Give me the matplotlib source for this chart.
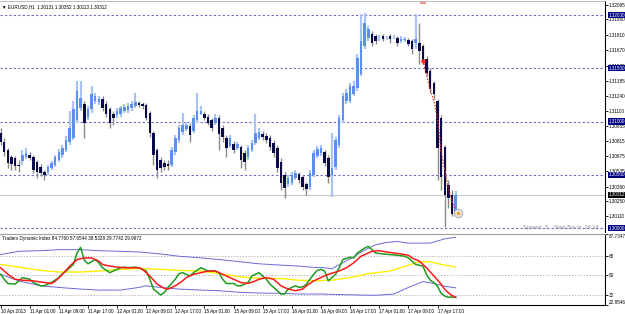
import matplotlib
matplotlib.use("Agg")
import matplotlib.pyplot as plt
from matplotlib.transforms import blended_transform_factory

plt.rcParams["font.family"] = ["Liberation Sans", "DejaVu Sans"]

# EURUSD H1, 10 Apr 17:00 .. 17 Apr 22:00 (one row per bar)
opens = [1.30888, 1.30804, 1.30729, 1.30664, 1.30655, 1.30589, 1.30626, 1.30664, 1.30683, 1.30664,
         1.30617, 1.30570, 1.30524, 1.30524, 1.30561, 1.30589, 1.30636, 1.30683, 1.30729, 1.30804,
         1.30842, 1.31010, 1.31131, 1.31169, 1.31047, 1.31122, 1.31197, 1.31187, 1.31216, 1.31169,
         1.31122, 1.31075, 1.31057, 1.31075, 1.31103, 1.31113, 1.31131, 1.31150, 1.31178, 1.31169,
         1.31159, 1.31085, 1.30888, 1.30729, 1.30636, 1.30608, 1.30598, 1.30589, 1.30711, 1.30823,
         1.30898, 1.30926, 1.30954, 1.30916, 1.31010, 1.31075, 1.31075, 1.31047, 1.31010, 1.30982,
         1.31029, 1.30935, 1.30842, 1.30767, 1.30785, 1.30748, 1.30757, 1.30701, 1.30664, 1.30729,
         1.30795, 1.30842, 1.30879, 1.30860, 1.30842, 1.30795, 1.30748, 1.30617, 1.30496, 1.30411,
         1.30421, 1.30468, 1.30505, 1.30477, 1.30411, 1.30383, 1.30496, 1.30673, 1.30701, 1.30711,
         1.30655, 1.30496, 1.30570, 1.30776, 1.31010, 1.31197, 1.31197, 1.31262, 1.31318, 1.31449,
         1.31711, 1.31786, 1.31823, 1.31805, 1.31786, 1.31805, 1.31786, 1.31805, 1.31795, 1.31786,
         1.31758, 1.31767, 1.31767, 1.31758, 1.31739, 1.31739, 1.31711, 1.31590, 1.31477, 1.31365,
         1.31197, 1.31029, 1.30757, 1.30402, 1.30309, 1.30131]
highs = [1.30935, 1.30842, 1.30748, 1.30683, 1.30673, 1.30636, 1.30729, 1.30748, 1.30711, 1.30683,
         1.30636, 1.30598, 1.30542, 1.30589, 1.30626, 1.30683, 1.30739, 1.30776, 1.30860, 1.31103,
         1.31197, 1.31384, 1.31384, 1.31197, 1.31150, 1.31337, 1.31272, 1.31244, 1.31244, 1.31197,
         1.31141, 1.31103, 1.31131, 1.31150, 1.31169, 1.31178, 1.31197, 1.31272, 1.31197, 1.31187,
         1.31178, 1.31103, 1.30916, 1.30748, 1.30664, 1.30636, 1.30636, 1.30757, 1.30870, 1.30972,
         1.31085, 1.31000, 1.30982, 1.31066, 1.31272, 1.31150, 1.31103, 1.31075, 1.31038, 1.31075,
         1.31057, 1.30963, 1.30870, 1.30870, 1.30813, 1.30804, 1.30776, 1.30729, 1.30776, 1.30823,
         1.31075, 1.30935, 1.30916, 1.30888, 1.30870, 1.30823, 1.30776, 1.30655, 1.30524, 1.30496,
         1.30524, 1.30542, 1.30524, 1.30496, 1.30430, 1.30542, 1.30729, 1.30767, 1.30776, 1.30729,
         1.30683, 1.30888, 1.30851, 1.31057, 1.31272, 1.31309, 1.31365, 1.31384, 1.31636, 1.32010,
         1.32020, 1.31898, 1.31851, 1.31823, 1.31814, 1.31823, 1.31805, 1.31823, 1.31814, 1.31805,
         1.31805, 1.31795, 1.31786, 1.31777, 1.32010, 1.31926, 1.31730, 1.31618, 1.31505, 1.31384,
         1.31216, 1.31057, 1.30776, 1.30449, 1.30355, 1.30352]
lows = [1.30776, 1.30673, 1.30561, 1.30542, 1.30542, 1.30524, 1.30589, 1.30645, 1.30636, 1.30514,
        1.30468, 1.30486, 1.30449, 1.30496, 1.30542, 1.30570, 1.30617, 1.30655, 1.30711, 1.30776,
        1.30823, 1.30982, 1.31103, 1.30842, 1.31010, 1.31085, 1.31169, 1.31159, 1.31103, 1.31047,
        1.30935, 1.30963, 1.31029, 1.31047, 1.31085, 1.31085, 1.31103, 1.31131, 1.31141, 1.31122,
        1.31010, 1.30851, 1.30589, 1.30468, 1.30524, 1.30542, 1.30542, 1.30570, 1.30683, 1.30795,
        1.30870, 1.30907, 1.30804, 1.30888, 1.30991, 1.31057, 1.31010, 1.30963, 1.30916, 1.30963,
        1.30729, 1.30804, 1.30664, 1.30748, 1.30701, 1.30729, 1.30561, 1.30542, 1.30636, 1.30711,
        1.30776, 1.30823, 1.30823, 1.30795, 1.30729, 1.30664, 1.30524, 1.30355, 1.30281, 1.30383,
        1.30402, 1.30449, 1.30421, 1.30355, 1.30309, 1.30355, 1.30477, 1.30655, 1.30673, 1.30580,
        1.30421, 1.30290, 1.30542, 1.30748, 1.30982, 1.31169, 1.31178, 1.31244, 1.31290, 1.31431,
        1.31683, 1.31758, 1.31711, 1.31730, 1.31758, 1.31758, 1.31767, 1.31739, 1.31777, 1.31711,
        1.31739, 1.31748, 1.31711, 1.31636, 1.31683, 1.31543, 1.31543, 1.31431, 1.31272, 1.31216,
        1.30449, 1.30355, 1.30009, 1.30187, 1.30113, 1.30113]
closes = [1.30804, 1.30711, 1.30608, 1.30598, 1.30580, 1.30580, 1.30683, 1.30701, 1.30655, 1.30542,
          1.30524, 1.30514, 1.30496, 1.30570, 1.30608, 1.30664, 1.30711, 1.30748, 1.30823, 1.30935,
          1.31122, 1.31290, 1.31225, 1.30991, 1.31122, 1.31262, 1.31244, 1.31216, 1.31131, 1.31075,
          1.30991, 1.31029, 1.31103, 1.31131, 1.31141, 1.31150, 1.31169, 1.31187, 1.31159, 1.31150,
          1.31038, 1.30888, 1.30683, 1.30542, 1.30561, 1.30570, 1.30580, 1.30729, 1.30842, 1.30944,
          1.30963, 1.30972, 1.30870, 1.31038, 1.31103, 1.31103, 1.31029, 1.30982, 1.30944, 1.31038,
          1.30879, 1.30851, 1.30748, 1.30842, 1.30729, 1.30785, 1.30636, 1.30617, 1.30748, 1.30795,
          1.30888, 1.30898, 1.30851, 1.30823, 1.30757, 1.30701, 1.30561, 1.30421, 1.30374, 1.30468,
          1.30496, 1.30514, 1.30449, 1.30383, 1.30365, 1.30514, 1.30701, 1.30739, 1.30748, 1.30608,
          1.30477, 1.30561, 1.30823, 1.31029, 1.31244, 1.31272, 1.31337, 1.31337, 1.31599, 1.31758,
          1.31926, 1.31870, 1.31739, 1.31758, 1.31786, 1.31777, 1.31786, 1.31777, 1.31795, 1.31739,
          1.31777, 1.31777, 1.31730, 1.31683, 1.31777, 1.31664, 1.31571, 1.31459, 1.31309, 1.31262,
          1.30748, 1.30477, 1.30309, 1.30281, 1.30131, 1.30312]

price_ticks = [1.32095, 1.31960, 1.31810, 1.31670, 1.31525, 1.31385, 1.31240, 1.31100,
               1.30955, 1.30815, 1.30675, 1.30535, 1.30390, 1.30250, 1.30110]
round_levels = [1.32000, 1.31500, 1.31000, 1.30500, 1.30000]
bid_price = 1.30312

time_ticks = [0, 8, 16, 24, 32, 40, 48, 56, 64, 72, 80, 88, 96, 104, 112, 120]
time_labels = ["10 Apr 2013", "11 Apr 01:00", "11 Apr 09:00", "11 Apr 17:00", "12 Apr 01:00",
               "12 Apr 09:00", "12 Apr 17:00", "15 Apr 01:00", "15 Apr 09:00", "15 Apr 17:00",
               "16 Apr 01:00", "16 Apr 09:00", "16 Apr 17:00", "17 Apr 01:00", "17 Apr 09:00",
               "17 Apr 17:00"]

# red trailing dots during the sell-off
trail_idx = [116, 117, 118, 119, 120, 121, 122, 123, 124, 125]
trail_val = [1.31571, 1.31440, 1.31300, 1.31200, 1.31030, 1.30720, 1.30540, 1.30370, 1.30250, 1.30160]

# Traders Dynamic Index
rsi_idx = [0, 1, 2, 4, 5, 6, 8, 9, 11, 12, 14, 16, 17, 18, 20, 21, 22, 23, 24, 26, 27, 28, 30, 31,
           33, 34, 35, 37, 38, 40, 41, 42, 44, 45, 46, 48, 49, 50, 52, 53, 55, 56, 57, 59, 60, 61,
           62, 64, 65, 66, 68, 69, 71, 72, 73, 74, 76, 77, 78, 79, 81, 82, 83, 84, 85, 86, 87, 88,
           89, 90, 92, 93, 94, 96, 97, 98, 100, 101, 102, 103, 105, 107, 109, 111, 112, 114, 116,
           117, 118, 119, 120, 121, 122, 123, 124, 125]
rsi_val = [50.9, 46.4, 42.5, 41.9, 44.9, 47.9, 46.4, 43.4, 40.4, 40.4, 43.4, 47.9, 51.5, 53.9, 59.9,
           70.4, 75.5, 64.0, 60.5, 64.4, 61.4, 56.9, 52.4, 53.9, 56.9, 57.5, 56.9, 57.5, 56.9, 53.9,
           46.4, 37.4, 32.0, 34.4, 38.9, 46.4, 51.5, 52.4, 49.4, 52.4, 56.9, 55.4, 53.9, 53.9, 52.4,
           46.4, 42.5, 42.5, 40.4, 40.4, 43.4, 49.4, 52.4, 49.4, 46.4, 41.9, 35.9, 32.9, 32.9, 37.4,
           40.4, 38.9, 39.5, 41.9, 46.4, 50.9, 54.5, 55.4, 53.9, 44.9, 50.9, 56.9, 64.4, 66.5, 65.9,
           70.4, 74.9, 76.4, 73.4, 70.4, 69.5, 68.9, 68.3, 67.4, 65.9, 59.9, 58.4, 50.5, 45.5, 43.4,
           40.0, 33.5, 31.0, 29.9, 30.2, 29.77]
sig_idx = [0, 2, 4, 6, 9, 12, 14, 15, 17, 19, 21, 23, 25, 27, 28, 30, 32, 34, 37, 38, 39, 41, 43,
           45, 46, 48, 50, 51, 53, 55, 57, 59, 60, 62, 64, 66, 68, 70, 71, 73, 75, 77, 79, 81, 83,
           84, 86, 88, 90, 93, 95, 97, 99, 101, 102, 104, 106, 108, 110, 112, 113, 115, 117, 119,
           121, 122, 123, 124, 125]
sig_val = [56.9, 50.9, 46.4, 45.5, 44.9, 43.4, 42.5, 44.5, 50.9, 58.4, 64.4, 65.9, 65.9, 62.9, 59.9,
           58.4, 57.5, 56.9, 56.9, 56.9, 55.4, 49.4, 41.9, 38.0, 37.4, 40.4, 44.9, 47.9, 50.9, 52.4,
           53.9, 53.9, 52.4, 49.4, 46.4, 43.4, 42.5, 44.9, 46.4, 47.9, 46.4, 40.4, 37.4, 35.9, 37.4,
           40.4, 44.9, 47.9, 50.9, 53.9, 56.9, 61.4, 67.4, 70.4, 71.9, 72.5, 71.3, 70.4, 69.5, 68.3,
           65.9, 62.9, 56.9, 49.4, 41.9, 37.0, 34.0, 31.5, 30.0]
base_idx = [0, 5, 11, 16, 22, 27, 33, 38, 44, 49, 55, 60, 66, 71, 77, 82, 86, 91, 96, 101, 107,
            112, 115, 118, 121, 125]
base_val = [59.9, 57.5, 54.5, 53.0, 53.0, 53.9, 55.4, 56.3, 55.4, 54.5, 53.9, 51.5, 48.5, 47.3,
            47.0, 45.5, 45.0, 45.5, 47.9, 51.5, 53.9, 59.3, 62.3, 62.3, 59.9, 57.65]
upper_idx = [0, 5, 11, 16, 22, 27, 33, 38, 44, 49, 55, 60, 66, 71, 77, 82, 85, 89, 91, 94, 97, 100,
             103, 106, 109, 112, 118, 122, 125]
upper_val = [68.9, 71.9, 72.5, 73.4, 73.4, 72.5, 71.9, 71.3, 69.5, 67.4, 65.9, 64.4, 62.3, 60.5,
             59.3, 58.4, 57.5, 56.9, 56.0, 61.4, 67.0, 73.0, 77.9, 80.0, 80.9, 79.4, 79.4, 83.3, 84.78]
lower_idx = [0, 5, 11, 16, 22, 27, 33, 38, 40, 44, 49, 55, 60, 66, 71, 77, 82, 88, 94, 103, 108,
             112, 116, 119, 122, 125]
lower_val = [50.9, 44.9, 40.4, 38.9, 37.4, 36.5, 36.5, 38.9, 40.4, 38.9, 37.4, 36.5, 35.9, 34.4,
             33.8, 33.5, 32.9, 32.9, 32.3, 31.7, 32.9, 38.9, 44.3, 42.5, 40.0, 38.53]

BULL = "#5b8ff0"
BEAR = "#0a0a48"
LEVEL = "#6a6ac8"
FS = 3.3

fig = plt.figure(figsize=(6.25, 3.14), dpi=100)
fig.patch.set_facecolor("white")
W, H = 625.0, 314.0
ax = fig.add_axes([0, 1 - 232 / H, 605 / W, 231 / H])
ax2 = fig.add_axes([0, 1 - 305 / H, 605 / W, 71 / H])

xmin, xmax = -0.15, 166.0
n = len(opens)

# candles
for i in range(n):
    o, h, l, c = opens[i], highs[i], lows[i], closes[i]
    up = c >= o
    ax.vlines(i, l, h, color="#a9c3f3" if up else "#8a8a8a", lw=1.6 if up else 1.0, zorder=2)
    body = max(abs(c - o), 0.00002)
    ax.bar(i, body, bottom=min(o, c), width=0.7, color=BULL if up else BEAR,
           linewidth=0, zorder=3)

ax.plot(trail_idx, trail_val, ls=(0, (1, 1.2)), color="#e03020", lw=1.0, zorder=4)
ax.plot([116], [1.31565], "o", color="#ff2a1a", ms=2.2, zorder=5)
ax.plot([116], [1.32110], "_", color="#f08070", ms=4, mew=1.2, zorder=5)
ax.plot([125.6], [1.30140], "o", ms=6, mfc="#e8e8e8", mec="#b0b0b0", mew=0.8, zorder=5)
ax.plot([125.6], [1.30140], "o", ms=1.5, color="#f0a020", zorder=6)

for lv in round_levels:
    ax.axhline(lv, color=LEVEL, lw=0.8, ls=(0, (2, 2)), zorder=1)
ax.axhline(bid_price, color="#c8c8c8", lw=0.8, zorder=1)

ax.set_xlim(xmin, xmax)
ax.set_ylim(1.29963, 1.32132)
ax.yaxis.tick_right()
ax.set_yticks(price_ticks)
ax.set_yticklabels([f"{p:.5f}" for p in price_ticks])
ax.tick_params(axis="y", labelsize=FS, length=2, pad=1, width=0.6)
ax.set_xticks([])
for s in ["left", "bottom"]:
    ax.spines[s].set_visible(False)
ax.spines["top"].set_color("#b0b0b0")
ax.spines["top"].set_linewidth(0.6)
ax.spines["right"].set_linewidth(0.8)

tr = blended_transform_factory(ax.transAxes, ax.transData)
for lv in round_levels:
    ax.text(1.006, lv, f"{lv:.5f}", transform=tr, fontsize=FS, color="white", va="center",
            ha="left", bbox=dict(fc="#000080", ec="none", pad=0.5), zorder=10, clip_on=False)
ax.text(1.006, bid_price, f"{bid_price:.5f}", transform=tr, fontsize=FS, color="white",
        va="center", ha="left", bbox=dict(fc="#000000", ec="none", pad=0.5), zorder=10,
        clip_on=False)

ax.text(0.004, 0.985, "\u25bc EURUSD,H1  1.30131 1.30352 1.30113 1.30312", transform=ax.transAxes,
        fontsize=FS, va="top", ha="left")
ax.text(0.99, 0.008, "Spread:  5    Next Bar in  39:34", transform=ax.transAxes, fontsize=4.0,
        color="#909090", va="bottom", ha="right")

# TDI window
for lv in [68, 50, 32]:
    ax2.axhline(lv, color="#a8a8a8", lw=0.6, ls=(0, (1.5, 2)), zorder=1)
ax2.plot(upper_idx, upper_val, color="#6a6ad8", lw=0.7, zorder=2)
ax2.plot(lower_idx, lower_val, color="#6a6ad8", lw=0.7, zorder=2)
ax2.plot(base_idx, base_val, color="#ffee00", lw=1.0, zorder=3)
ax2.plot(rsi_idx, rsi_val, color="#1f9a1f", lw=1.1, zorder=4)
ax2.plot(sig_idx, sig_val, color="#ff1a1a", lw=1.1, zorder=5)

ax2.set_xlim(xmin, xmax)
ax2.set_ylim(22.8546, 87.7347)
ax2.yaxis.tick_right()
ax2.set_yticks([87.7347, 68, 50, 32, 22.8546])
ax2.set_yticklabels(["87.7347", "68", "50", "32", "22.8546"])
ax2.tick_params(axis="y", labelsize=FS, length=2, pad=1, width=0.6)
ylabels = ax2.get_yticklabels()
ylabels[0].set_va("top")
ylabels[-1].set_va("bottom")
ax2.set_xticks(time_ticks)
ax2.set_xticklabels(time_labels, ha="left")
ax2.tick_params(axis="x", labelsize=FS, length=2, pad=1, width=0.6)
ax2.spines["left"].set_visible(False)
ax2.spines["top"].set_color("#a0a0a0")
ax2.spines["top"].set_linewidth(0.8)
for s in ["right", "bottom"]:
    ax2.spines[s].set_linewidth(0.8)
ax2.text(0.004, 0.97, "Traders Dynamic Index 84.7760 57.6544 38.5328 29.7742 29.9972",
         transform=ax2.transAxes, fontsize=FS, va="top", ha="left")

fig.savefig("out.png", dpi=100)
